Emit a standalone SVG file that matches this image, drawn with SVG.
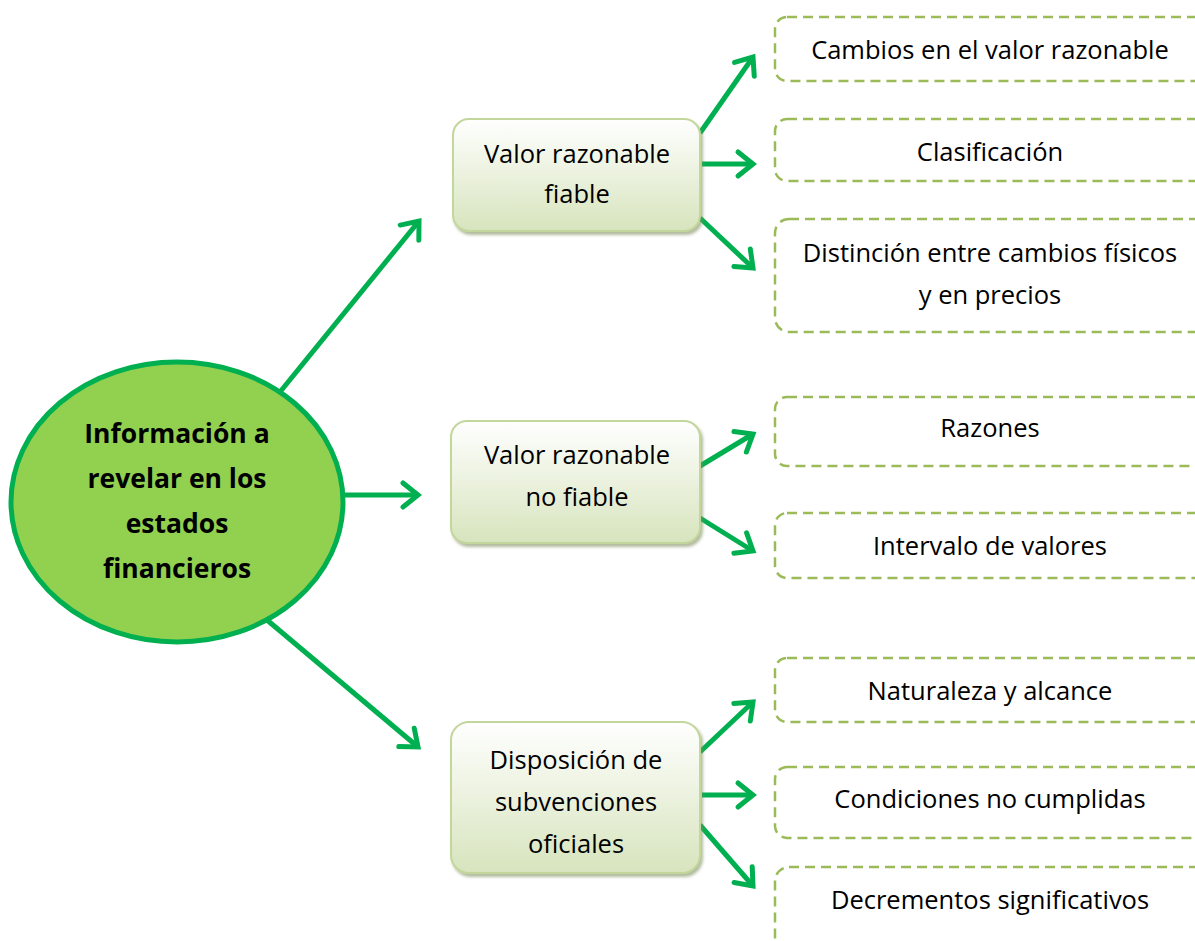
<svg xmlns="http://www.w3.org/2000/svg" width="1195" height="941" viewBox="0 0 1195 941">
<defs>
<linearGradient id="g" x1="0" y1="0" x2="0" y2="1">
<stop offset="0" stop-color="#ffffff"/>
<stop offset="1" stop-color="#d7e4bd"/>
</linearGradient>
<filter id="sh" x="-10%" y="-10%" width="125%" height="130%">
<feDropShadow dx="2" dy="3" stdDeviation="1.5" flood-color="#7f8f5f" flood-opacity="0.6"/>
</filter>
<marker id="ah" markerUnits="userSpaceOnUse" markerWidth="40" markerHeight="40" refX="20" refY="20" orient="auto">
<path d="M5,8 L20,20 L5,32" fill="none" stroke="#00b050" stroke-width="5" stroke-linecap="round" stroke-linejoin="miter"/>
</marker>
</defs>
<style>
.mid{fill:url(#g);stroke:#c3d69b;stroke-width:2;filter:url(#sh)}
.leaf{fill:#ffffff;stroke:#9bbb59;stroke-width:2.5;stroke-dasharray:10,6}
.t{font-family:"Open Sans","Noto Sans","Liberation Sans",sans-serif;font-size:25.5px;fill:#000;text-anchor:middle}
.b{font-family:"Open Sans","Noto Sans","Liberation Sans",sans-serif;font-size:26.5px;font-weight:bold;fill:#000;text-anchor:middle}
.c{fill:none;stroke:#00b050;stroke-width:5;marker-end:url(#ah)}
</style>
<rect width="1195" height="941" fill="#ffffff"/>

<g id="connectors">
<line class="c" x1="280" y1="392" x2="419" y2="221"/>
<line class="c" x1="345" y1="495" x2="418" y2="495"/>
<line class="c" x1="267" y1="620" x2="418" y2="747"/>
<line class="c" x1="700" y1="133" x2="753" y2="57"/>
<line class="c" x1="702" y1="164" x2="753" y2="164"/>
<line class="c" x1="700" y1="218" x2="753" y2="268"/>
<line class="c" x1="700" y1="466" x2="753" y2="434"/>
<line class="c" x1="700" y1="518" x2="753" y2="551"/>
<line class="c" x1="700" y1="752" x2="753" y2="702"/>
<line class="c" x1="702" y1="795" x2="753" y2="795"/>
<line class="c" x1="700" y1="825" x2="753" y2="886"/>
</g>

<g id="root">
<ellipse cx="177" cy="502" rx="166" ry="140" fill="#92d050" stroke="#00b050" stroke-width="5"/>
<text class="b" x="177" y="443">Información a</text>
<text class="b" x="177" y="488">revelar en los</text>
<text class="b" x="177" y="533">estados</text>
<text class="b" x="177" y="578">financieros</text>
</g>

<g id="mid1">
<rect class="mid" x="453" y="119" width="247" height="112" rx="16"/>
<text class="t" x="577" y="163">Valor razonable</text>
<text class="t" x="577" y="203">fiable</text>
</g>
<g id="mid2">
<rect class="mid" x="451" y="421" width="249" height="122" rx="16"/>
<text class="t" x="577" y="464">Valor razonable</text>
<text class="t" x="577" y="506">no fiable</text>
</g>
<g id="mid3">
<rect class="mid" x="451" y="722" width="249" height="151" rx="18"/>
<text class="t" x="576" y="769">Disposición de</text>
<text class="t" x="576" y="811">subvenciones</text>
<text class="t" x="576" y="853">oficiales</text>
</g>

<g id="leaf1">
<rect class="leaf" x="775" y="17" width="440" height="64" rx="12"/>
<text class="t" x="990" y="59">Cambios en el valor razonable</text>
</g>
<g id="leaf2">
<rect class="leaf" x="775" y="119" width="440" height="62" rx="12"/>
<text class="t" x="990" y="161">Clasificación</text>
</g>
<g id="leaf3">
<rect class="leaf" x="775" y="219" width="440" height="113" rx="14"/>
<text class="t" x="990" y="262">Distinción entre cambios físicos</text>
<text class="t" x="990" y="304">y en precios</text>
</g>
<g id="leaf4">
<rect class="leaf" x="775" y="397" width="440" height="69" rx="12"/>
<text class="t" x="990" y="437">Razones</text>
</g>
<g id="leaf5">
<rect class="leaf" x="775" y="513" width="440" height="65" rx="12"/>
<text class="t" x="990" y="555">Intervalo de valores</text>
</g>
<g id="leaf6">
<rect class="leaf" x="775" y="658" width="440" height="64" rx="12"/>
<text class="t" x="990" y="700">Naturaleza y alcance</text>
</g>
<g id="leaf7">
<rect class="leaf" x="775" y="767" width="440" height="71" rx="12"/>
<text class="t" x="990" y="808">Condiciones no cumplidas</text>
</g>
<g id="leaf8">
<rect class="leaf" x="775" y="867" width="440" height="100" rx="14"/>
<text class="t" x="990" y="909">Decrementos significativos</text>
</g>
</svg>
